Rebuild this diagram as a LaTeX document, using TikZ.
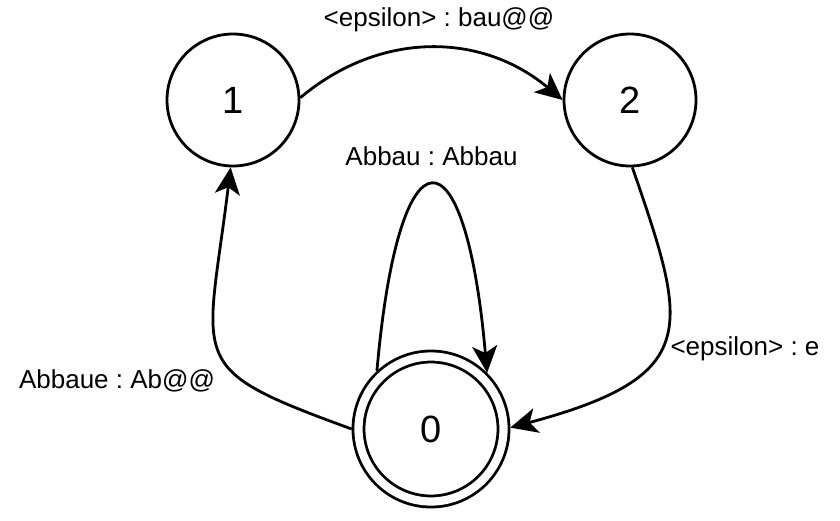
\documentclass[tikz,border=0pt]{standalone}
\usepackage{fontspec}
\setmainfont{Liberation Sans}
\usetikzlibrary{arrows.meta}
\frenchspacing
\tikzset{
  st/.style={circle,draw,line width=1.4pt,minimum size=66pt,inner sep=0pt,font=\fontsize{19}{22}\selectfont},
  acc/.style={st,double,double distance=4.1pt,minimum size=72.5pt,outer sep=3.4pt},
  trans/.style={line width=1.4pt,-{Stealth[length=13.5pt,width=12.5pt,inset=3.5pt]}},
  lbl/.style={anchor=base,inner sep=0pt,font=\fontsize{13}{15}\selectfont}
}
\begin{document}
\begin{tikzpicture}[x=0.5pt,y=0.5pt]
  \useasboundingbox (0,0) rectangle (840,-520);
  % states
  \node[st]  (n1) at (233,-100) {1};
  \node[st]  (n2) at (630,-100) {2};
  \node[acc] (n0) at (431,-429) {0};
  % labels
  \node[lbl] (l12) at (439,-26)  {<epsilon> : bau@@};
  \node[lbl] (l00) at (431.5,-165) {Abbau : Abbau};
  \node[lbl] (l01) at (117,-388) {Abbaue : Ab@@};
  \node[lbl] (l20) at (745,-355) {<epsilon> : e};
  % transitions
  \draw[trans] (n1.2) .. controls +(40:105) and +(140:105) .. (n2.west);
  \draw[trans] (n0.133) .. controls +(85:250) and +(95:250) .. (n0.45);
  \draw[trans] (n0.180) .. controls +(160:180) and +(263:200) .. (n1.268);
  \draw[trans] (n2.272) .. controls +(-71:170) and +(15:200) .. (n0.1);
\end{tikzpicture}
\end{document}
